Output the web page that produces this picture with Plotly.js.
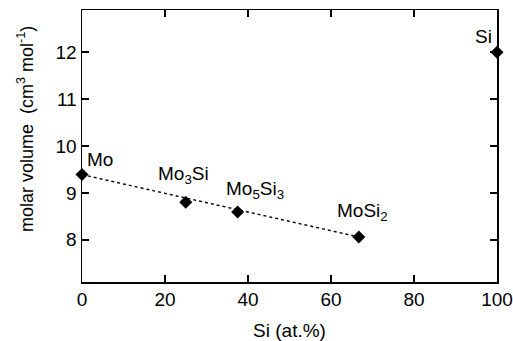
<!DOCTYPE html>
<html>
<head>
<meta charset="utf-8">
<script src="https://cdn.plot.ly/plotly-3.0.1.min.js"></script>
<style>
  html, body { margin: 0; padding: 0; background: #fff; }
  #chart { width: 513px; height: 341px; }
</style>
</head>
<body>
<div id="chart"></div>
<script>
// Molar volume of Mo–Si phases versus Si content
const phases = ["Mo", "Mo<sub>3</sub>Si", "Mo<sub>5</sub>Si<sub>3</sub>", "MoSi<sub>2</sub>", "Si"];
const siAtPct = [0, 25, 37.5, 66.7, 100];
const molarVolume = [9.39, 8.80, 8.59, 8.06, 12.0];
const xTicks = [0, 20, 40, 60, 80, 100];
const yTicks = [8, 9, 10, 11, 12];

// Dotted guide joining Mo and MoSi2
const guideX = [siAtPct[0], siAtPct[3]];
const guideY = [molarVolume[0], molarVolume[3]];

// Label offsets (px) relative to each point
const labelShift = [
  { xanchor: "left",   xshift: 3,  yshift: 15 },
  { xanchor: "center", xshift: -2, yshift: 27 },
  { xanchor: "center", xshift: 17, yshift: 22 },
  { xanchor: "center", xshift: 4,  yshift: 25 },
  { xanchor: "right",  xshift: -3, yshift: 16 }
];

const font = { family: "Liberation Sans, Arial, sans-serif", size: 19, color: "#000" };
const yTitleFont = { family: "Liberation Sans, Arial, sans-serif", size: 18, color: "#000" };

const traces = [
  {
    x: guideX, y: guideY, mode: "lines", type: "scatter",
    line: { color: "#000", width: 1.4, dash: "dot" },
    hoverinfo: "skip", cliponaxis: false
  },
  {
    x: siAtPct, y: molarVolume, mode: "markers", type: "scatter",
    marker: { symbol: "diamond", size: 10, color: "#000" },
    cliponaxis: false
  }
];

const annotations = phases.map((p, i) => ({
  x: siAtPct[i], y: molarVolume[i], xref: "x", yref: "y",
  text: p, showarrow: false, font: font,
  xanchor: labelShift[i].xanchor, yanchor: "middle",
  xshift: labelShift[i].xshift, yshift: labelShift[i].yshift
}));

// Y-axis title, placed as a rotated annotation
annotations.push({
  xref: "paper", yref: "paper", x: 0, y: 0.5,
  xanchor: "center", yanchor: "middle",
  xshift: -57, yshift: 17,
  textangle: -90, showarrow: false, font: yTitleFont,
  text: "molar volume  (cm<sup>3</sup> mol<sup>-1</sup>)"
});

const axisCommon = {
  showline: true, linecolor: "#000", linewidth: 1.5, mirror: "allticks",
  ticks: "inside", ticklen: 7, tickwidth: 1.5, tickcolor: "#000",
  showgrid: false, zeroline: false, tickfont: font
};

const layout = {
  width: 513, height: 341,
  margin: { l: 82, r: 16, t: 10, b: 59 },
  paper_bgcolor: "#fff", plot_bgcolor: "#fff",
  showlegend: false,
  font: font,
  xaxis: Object.assign({}, axisCommon, {
    range: [0, 100], tickvals: xTicks,
    title: { text: "Si (at.%)", font: font, standoff: 14 }
  }),
  yaxis: Object.assign({}, axisCommon, {
    range: [7.1, 12.9], tickvals: yTicks
  }),
  annotations: annotations
};

Plotly.newPlot("chart", traces, layout, { staticPlot: true, displayModeBar: false });
</script>
</body>
</html>
